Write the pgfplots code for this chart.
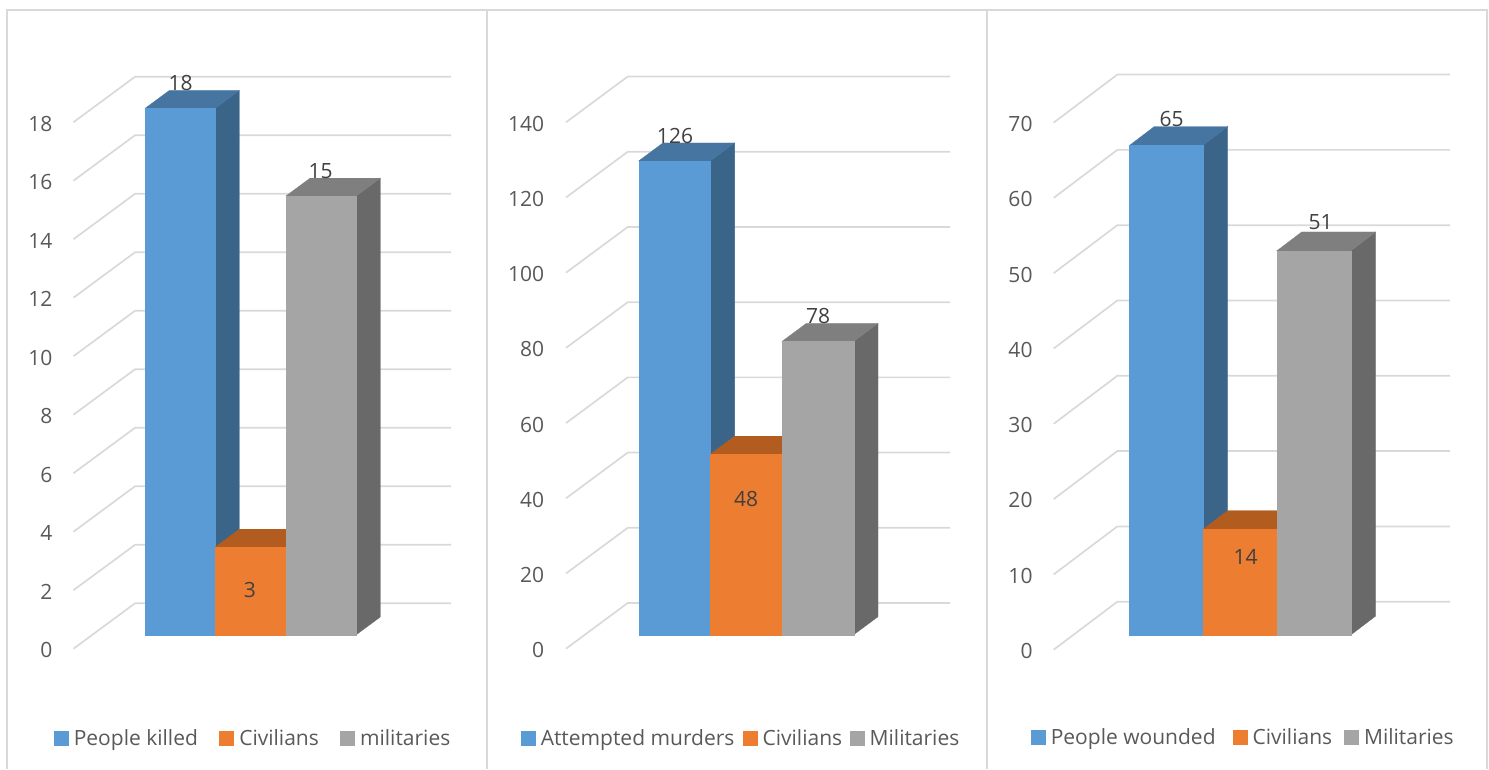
\documentclass[border=0pt]{standalone}
\usepackage{fontspec}
\setmainfont{Open Sans}
\usepackage{pgfplots}
\pgfplotsset{compat=1.18}

\definecolor{blueF}{HTML}{5B9BD5}
\definecolor{blueS}{HTML}{3A6589}
\definecolor{blueT}{HTML}{4675A1}
\definecolor{oranF}{HTML}{ED7D31}
\definecolor{oranS}{HTML}{8F4E20}
\definecolor{oranT}{HTML}{B25C20}
\definecolor{grayF}{HTML}{A5A5A5}
\definecolor{grayS}{HTML}{696969}
\definecolor{grayT}{HTML}{7F7F7F}
\definecolor{gridc}{HTML}{D9D9D9}
\definecolor{tickc}{HTML}{595959}
\definecolor{labc}{HTML}{404040}

% everything is in reference pixels: 1px = 1pt, x is the picture's pixel column
\pgfplotsset{panel/.style={
  at={(0pt,0pt)}, anchor=south west,
  scale only axis, width=1489pt, height=769pt,
  xmin=0, xmax=1489, clip=false,
  axis line style={draw=none}, xtick=\empty,
  major tick length=0pt, ytick style={draw=none},
  /pgf/number format/assume math mode=true,
  tick label style={font=\fontsize{21}{25}\selectfont, text=tickc, inner sep=0pt},
  legend cell align=left,
  legend style={draw=none, fill=none, inner sep=0pt, outer sep=0pt,
    anchor=west, legend columns=-1, column sep=5.5pt,
    font=\fontsize{21}{25}\selectfont, text=tickc,
    nodes={inner sep=0pt, outer sep=0pt}},
  legend image code/.code={\path[##1] (0pt,-7pt) rectangle (14pt,7pt);},
}}

% #1 x left, #2 x right, #3 value, #4 colour prefix
\newcommand{\boxbar}[4]{%
  \pgfmathsetmacro\xb{#2+\bdx}%
  \pgfmathsetmacro\xa{#1+\bdx}%
  \pgfmathsetmacro\yt{#3+\bdy/\sc}%
  \pgfmathsetmacro\yb{\bdy/\sc}%
  \addplot[fill=#4S, draw=#4S, line width=0.3pt, forget plot] coordinates {(#2,0) (\xb,\yb) (\xb,\yt) (#2,#3)} --cycle;
  \addplot[fill=#4T, draw=#4T, line width=0.3pt, forget plot] coordinates {(#1,#3) (\xa,\yt) (\xb,\yt) (#2,#3)} --cycle;
  \addplot[fill=#4F, draw=#4F, line width=0.3pt] coordinates {(#1,0) (#1,#3) (#2,#3) (#2,0)} --cycle;
}
% #1 x centre, #2 value, #3 shift in px from the bar's top
\newcommand{\barlab}[3]{%
  \addplot[draw=none, forget plot, nodes near coords,
    every node near coord/.append style={anchor=center, yshift=#3pt, text=labc,
      inner sep=0pt, font=\fontsize{21}{25}\selectfont}]
    coordinates {(#1,#2)};
}
% #1 tick value
\newcommand{\gridrow}[1]{%
  \pgfmathsetmacro\yf{#1-\fdrop/\sc}%
  \pgfmathsetmacro\yk{#1+\brise/\sc}%
  \addplot[gridc, line width=1.7pt, forget plot] coordinates {(\gxa,\yf) (\gxb,\yk) (\gxc,\yk)};
}

\begin{document}
\begin{tikzpicture}
\path[use as bounding box] (0pt,0pt) rectangle (1489pt,769pt);
\draw[gridc, line width=1.8pt] (7pt,0pt) -- (7pt,759pt) -- (1487pt,759pt) -- (1487pt,0pt);
\draw[gridc, line width=2.2pt] (487pt,0pt) -- (487pt,759pt);
\draw[gridc, line width=2.2pt] (987pt,0pt) -- (987pt,759pt);

% ---- people killed
\def\sc{29.25}\def\bdx{24}\def\bdy{17.7}\def\fdrop{14}\def\brise{31.4}
\def\gxa{73.5}\def\gxb{135}\def\gxc{451}
\begin{axis}[panel, ymin={-(769-634.7)/29.25}, ymax={634.7/29.25},
  ytick={0,2,...,18},
  yticklabel style={anchor=east, xshift=52.5pt, yshift=-15.5pt},
  legend style={at={(54/1489,31/769)}}]
  \pgfplotsinvokeforeach{0,2,...,18}{\gridrow{#1}}
  \boxbar{145.3}{215.3}{18}{blue}
  \addlegendentry{\makebox[140.2pt][l]{People killed}}
  \boxbar{215.3}{286}{3}{oran}
  \addlegendentry{\makebox[95.5pt][l]{Civilians}}
  \boxbar{286}{356.3}{15}{gray}
  \addlegendentry{militaries}
  \barlab{180.7}{18}{25}
  \barlab{250}{3}{-43.3}
  \barlab{320.7}{15}{25.3}
\end{axis}

% ---- attempted murders
\def\sc{3.76}\def\bdx{24.3}\def\bdy{18}\def\fdrop{14}\def\brise{31.7}
\def\gxa{566}\def\gxb{627.7}\def\gxc{950}
\begin{axis}[panel, ymin={-(769-634.7)/3.76}, ymax={634.7/3.76},
  ytick={0,20,...,140},
  yticklabel style={anchor=east, xshift=544.3pt, yshift=-15.5pt},
  legend style={at={(521/1489,31/769)}}]
  \pgfplotsinvokeforeach{0,20,...,140}{\gridrow{#1}}
  \boxbar{638.7}{710.3}{126}{blue}
  \addlegendentry{\makebox[196.5pt][l]{Attempted murders}}
  \boxbar{710.3}{782}{48}{oran}
  \addlegendentry{\makebox[81.8pt][l]{Civilians}}
  \boxbar{782}{853.7}{78}{gray}
  \addlegendentry{Militaries}
  \barlab{675}{126}{25}
  \barlab{746}{48}{-44.5}
  \barlab{818}{78}{25.5}
\end{axis}

% ---- people wounded
\def\sc{7.53}\def\bdx{25}\def\bdy{19}\def\fdrop{14.7}\def\brise{33.3}
\def\gxa{1053.7}\def\gxb{1117.3}\def\gxc{1450}
\begin{axis}[panel, ymin={-(769-635)/7.53}, ymax={635/7.53},
  ytick={0,10,...,70},
  yticklabel style={anchor=east, xshift=1032.7pt, yshift=-16pt},
  legend style={at={(1031/1489,32/769)}}]
  \pgfplotsinvokeforeach{0,10,...,70}{\gridrow{#1}}
  \boxbar{1129.3}{1202.7}{65}{blue}
  \addlegendentry{\makebox[176.5pt][l]{People wounded}}
  \boxbar{1202.7}{1276.7}{14}{oran}
  \addlegendentry{\makebox[86.2pt][l]{Civilians}}
  \boxbar{1276.7}{1350.7}{51}{gray}
  \addlegendentry{Militaries}
  \barlab{1171.7}{65}{26.7}
  \barlab{1245.7}{14}{-27}
  \barlab{1320.7}{51}{29}
\end{axis}
\end{tikzpicture}
\end{document}
